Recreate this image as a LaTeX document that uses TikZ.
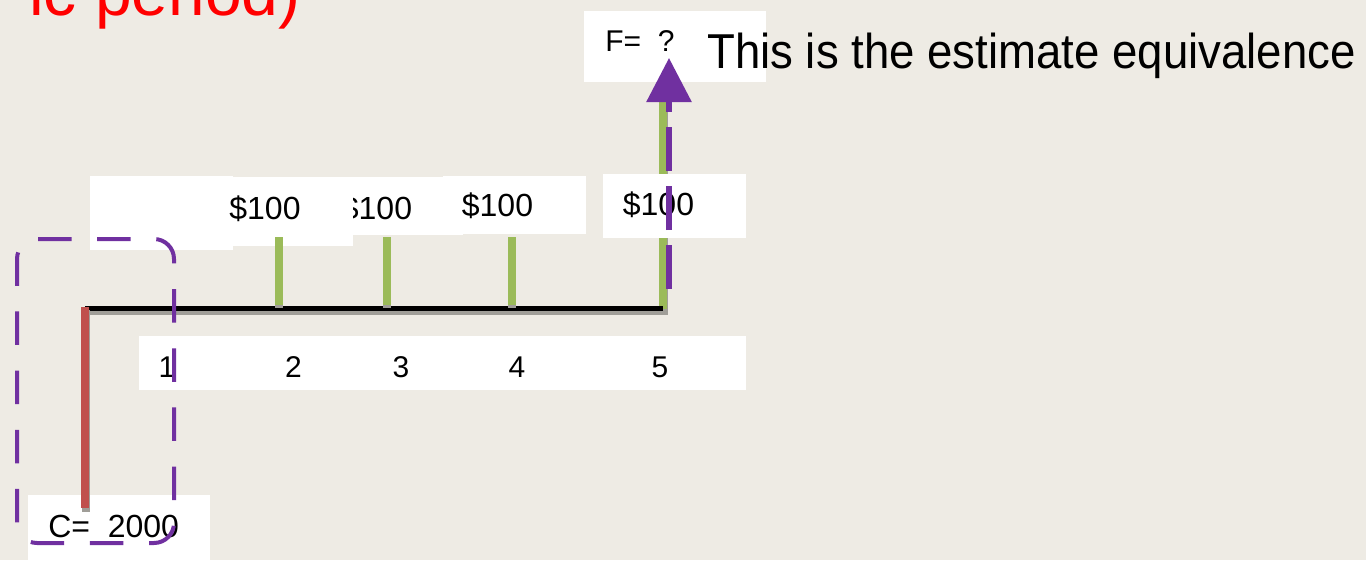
\documentclass[tikz,border=0pt]{standalone}
\usepackage{fontspec}
\setmainfont{Liberation Sans}
\usetikzlibrary{arrows.meta}
\definecolor{bg}{RGB}{238,235,228}
\definecolor{tgreen}{RGB}{155,187,89}
\definecolor{tred}{RGB}{192,80,77}
\definecolor{tpurple}{RGB}{112,48,160}
\definecolor{shade}{RGB}{160,158,152}
\begin{document}
\begin{tikzpicture}[x=0.75pt,y=-0.75pt,
  wbox/.style={fill=white,draw=none,inner sep=0,outer sep=0},
  lbl/.style={inner sep=0,outer sep=0,anchor=base,font=\fontsize{24}{28}\selectfont},
  numlbl/.style={inner sep=0,outer sep=0,anchor=base,font=\fontsize{22.5}{26}\selectfont},
  tick/.style={draw=tgreen,line width=6pt},
  tickshadow/.style={draw=shade,line width=6pt},
  axis/.style={draw=black,line width=3.75pt},
  axisshadow/.style={draw=shade,line width=3.75pt},
  cost/.style={draw=tred,line width=6pt},
  groupbox/.style={draw=tpurple,line width=3pt,dash pattern=on 25.125pt off 19.25pt},
  futurearrow/.style={draw=tpurple,line width=4.5pt,dash pattern=on 33pt off 11.25pt,dash phase=33pt,-{Triangle[length=33pt,width=33pt]}}
]
\fill[bg] (0,0) rectangle (1366,560);
\useasboundingbox (0,0) rectangle (1366,560);

% title fragment
\node[inner sep=0,anchor=base east,text=red,font=\fontsize{49.5}{52}\selectfont] (title) at (301,16) {ic period)};

% F box
\node[wbox,minimum width=136.5pt,minimum height=53.25pt] (fbox) at (675,46.5) {};
\node[inner sep=0,anchor=base west,font=\fontsize{22.5}{26}\selectfont] (ftext) at (605,52) {F=\ \ ?};

% $100 boxes
\node[wbox,minimum width=82.5pt,minimum height=43.5pt] (b3) at (408,206) {};
\node[lbl] (t3) at (376.5,219) {\$100};
\node[wbox,minimum width=107.25pt,minimum height=55.5pt] (b1) at (161.5,213) {};
\node[wbox,minimum width=90pt,minimum height=51.75pt] (b2) at (293,211.5) {};
\node[lbl] (t2) at (265,219) {\$100};
\node[wbox,minimum width=107.25pt,minimum height=43.5pt] (b4) at (514.5,205) {};
\node[lbl] (t4) at (497.5,216) {\$100};

% tick at period 5 (behind its label box)
\coordinate (g5top) at (663,97);
\coordinate (g5bot) at (663,309);
\coordinate (g5topS) at (664,100);
\coordinate (g5botS) at (664,314);
\draw[tickshadow] (g5topS) -- (g5botS);
\draw[tick] (g5top) -- (g5bot);

\node[wbox,minimum width=107.25pt,minimum height=48pt] (b5) at (674.5,206) {};
\node[lbl] (t5) at (658.5,215) {\$100};

% period numbers
\node[wbox,minimum width=455.25pt,minimum height=40.5pt] (nbox) at (442.5,363) {};
\node[numlbl] (n1) at (167,377) {1};
\node[numlbl] (n2) at (293.5,377) {2};
\node[numlbl] (n3) at (401,377) {3};
\node[numlbl] (n4) at (517,377) {4};
\node[numlbl] (n5) at (660,377) {5};

% C box
\node[wbox,minimum width=136.5pt,minimum height=52.5pt] (cbox) at (119,530) {};
\node[inner sep=0,anchor=base west,font=\fontsize{24}{28}\selectfont] (ctext) at (48,537) {C=\ \ 2000};

% time axis
\coordinate (a0) at (85,308.5);
\coordinate (a5) at (663,308.5);
\coordinate (a0S) at (87,312.5);
\coordinate (a5S) at (668,312.5);
\draw[axisshadow] (a0S) -- (a5S);
\draw[axis] (a0) -- (a5);

% cost line
\coordinate (c0) at (85,307);
\coordinate (c1) at (85,508);
\coordinate (c0S) at (86,310);
\coordinate (c1S) at (86,512);
\draw[draw=shade,line width=6pt] (c0S) -- (c1S);
\draw[cost] (c0) -- (c1);

% ticks 2,3,4
\coordinate (g2top) at (279,237);
\coordinate (g2bot) at (279,305);
\coordinate (g3top) at (387,237);
\coordinate (g3bot) at (387,305);
\coordinate (g4top) at (512,237);
\coordinate (g4bot) at (512,305);
\coordinate (g2S) at (279,308);
\coordinate (g3S) at (387,308);
\coordinate (g4S) at (512,308);
\draw[tickshadow] (g2top) -- (g2S);
\draw[tickshadow] (g3top) -- (g3S);
\draw[tickshadow] (g4top) -- (g4S);
\draw[tick] (g2top) -- (g2bot);
\draw[tick] (g3top) -- (g3bot);
\draw[tick] (g4top) -- (g4bot);

% dashed group box (explicit rounded rectangle)
\coordinate (r0) at (38,239);
\coordinate (r1) at (154,239);
\coordinate (r2) at (174,523);
\coordinate (r3) at (37,543);
\coordinate (r4) at (17,259);
\draw[groupbox] (r0) -- (r1) arc[start angle=-90,end angle=0,radius=20]
  -- (r2) arc[start angle=0,end angle=90,radius=20]
  -- (r3) arc[start angle=90,end angle=180,radius=20]
  -- (r4) arc[start angle=180,end angle=270,radius=20] -- cycle;

% arrow to F
\coordinate (fstart) at (669,304);
\coordinate (ftip) at (669,58);
\draw[futurearrow] (fstart) -- (ftip);

% caption
\node[inner sep=0,anchor=base west,font=\fontsize{36.75}{40}\selectfont] (caption) at (707,69) {\scalebox{0.93}[1]{This is the estimate equivalence}};
\end{tikzpicture}
\end{document}
